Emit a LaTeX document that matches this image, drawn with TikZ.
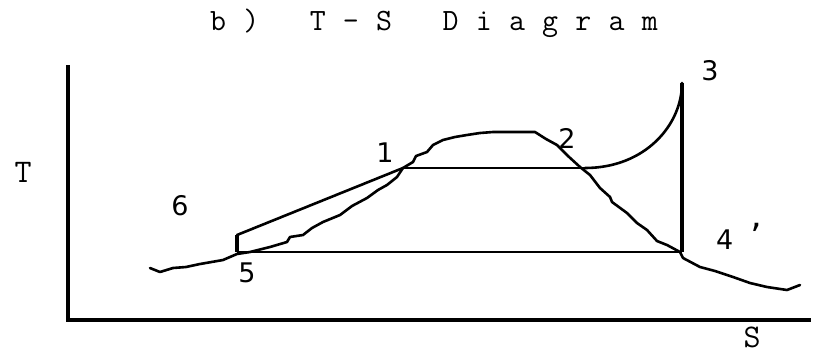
\documentclass[tikz,border=0pt]{standalone}
\usepackage{fontspec}
\newfontfamily\monof{Latin Modern Mono}
\newfontfamily\digf{DejaVu Sans}
\newcommand\tcell[1]{\makebox[16.6pt]{#1}}
\begin{document}
\begin{tikzpicture}[x=1pt,y=-1pt,
  axis/.style={line width=4pt,line cap=butt},
  curve/.style={line width=2.6pt,line join=round,line cap=round},
  thin/.style={line width=2pt},
  thick/.style={line width=3.5pt},
  monolab/.style={font=\monof\fontsize{33}{34}\selectfont,inner sep=0pt},
  diglab/.style={font=\digf\fontsize{27}{28}\selectfont,inner sep=0pt}]
\useasboundingbox (0,0) rectangle (813,354);
% title
\node[anchor=base west,inner sep=0pt,font=\monof\fontsize{31}{32}\selectfont] (title) at (209.7,30)
  {\tcell{b}\tcell{}\tcell{)}\tcell{}\tcell{}\tcell{}\tcell{T}\tcell{}\tcell{-}\tcell{}\tcell{S}\tcell{}\tcell{}\tcell{}%
   \tcell{D}\tcell{}\tcell{i}\tcell{}\tcell{a}\tcell{}\tcell{g}\tcell{}\tcell{r}\tcell{}\tcell{a}\tcell{}\tcell{m}};
% axes
\coordinate (ytop) at (68,65);
\coordinate (orig) at (68,320);
\coordinate (xend) at (811,320);
\draw[axis] (ytop) -- (orig) -- (xend);
% state points
\coordinate (p1) at (403,168);
\coordinate (p2) at (585,168);
\coordinate (p3) at (682,83);
\coordinate (p4) at (682,252);
\coordinate (p5) at (237,252);
\coordinate (p6) at (237,235);
% saturation dome (wavy)
\draw[curve] (150,268) -- (160,272) -- (173,268) -- (186,267) -- (200,264) -- (223,260) -- (237,254) -- (250,252)
  -- (270,247) -- (287,242) -- (290,237) -- (303,235) -- (312,228) -- (323,222) -- (340,215) -- (352,206) -- (367,198)
  -- (378,190) -- (387,185) -- (397,177) -- (403,168) -- (413,162) -- (416,156) -- (427,152) -- (433,145)
  -- (443,140) -- (455,137) -- (467,135) -- (480,133) -- (493,132) -- (535,132) -- (546,139) -- (557,145)
  -- (568,156) -- (580,167) -- (590,175) -- (600,188) -- (610,197) -- (612,202) -- (627,213) -- (637,223)
  -- (647,230) -- (657,241) -- (667,245) -- (680,252) -- (683,258) -- (700,267) -- (715,271) -- (733,277)
  -- (750,283) -- (767,287) -- (787,290) -- (800,285);
% cycle lines
\draw[thin] (p1) -- (p2);
\draw[curve] (p2) .. controls (645,168) and (682,125) .. (p3);
\draw[thick] (p3) -- (p4);
\draw[thin] (p4) -- (p5);
\draw[thick] (p5) -- (p6);
\draw[curve] (p6) -- (p1);
% labels
\node[monolab] (lT) at (23,172) {T};
\node[monolab] (lS) at (752,337) {S};
\node[diglab] (l1) at (385,153) {1};
\node[diglab] (l2) at (567,138) {2};
\node[diglab] (l3) at (710,71) {3};
\node[diglab,anchor=base west] (l4) at (716,249) {4\hspace{17pt}{\fontsize{36}{36}\selectfont’}};
\node[diglab] (l5) at (247,273) {5};
\node[diglab] (l6) at (180,206) {6};
\end{tikzpicture}
\end{document}
